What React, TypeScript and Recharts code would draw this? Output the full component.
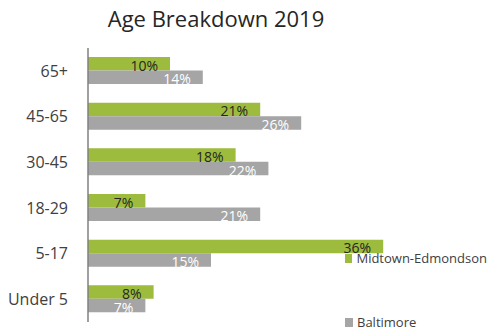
import { BarChart, Bar, XAxis, YAxis, Legend, LabelList } from 'recharts'

const AGE_GROUPS = ['65+', '45-65', '30-45', '18-29', '5-17', 'Under 5']
const MIDTOWN = [10, 21, 18, 7, 36, 8]
const BALTIMORE = [14, 26, 22, 21, 15, 7]
const SERIES_NAMES = ['Midtown-Edmondson', 'Baltimore']

const GREEN = '#9dbb3d'
const GRAY = '#a5a5a5'
const FONT = '"Open Sans", "Noto Sans", sans-serif'

const data = AGE_GROUPS.map((age, i) => ({
  age,
  midtown: MIDTOWN[i],
  baltimore: BALTIMORE[i],
}))

const pct = (v: unknown) => `${v}%`

function LegendBox({ payload }: { payload?: Array<{ value: string; color: string }> }) {
  // keep Excel's order: Midtown first, Baltimore below
  const items = [...(payload ?? [])].sort(
    (a, b) => SERIES_NAMES.indexOf(a.value) - SERIES_NAMES.indexOf(b.value)
  )
  return (
    <div style={{ fontFamily: FONT, fontSize: 13, color: '#404040', whiteSpace: 'nowrap' }}>
      {items.map((item, i) => (
        <div
          key={item.value}
          style={{ display: 'flex', alignItems: 'center', height: 16, marginTop: i === 0 ? 0 : 48 }}
        >
          <span style={{ width: 8, height: 9, background: item.color, marginRight: 4, display: 'inline-block' }} />
          <span>{item.value}</span>
        </div>
      ))}
    </div>
  )
}

export default function App() {
  return (
    <div style={{ position: 'absolute', left: 0, top: 0, width: 487, height: 332, background: '#fff' }}>
      <div
        style={{
          position: 'absolute',
          left: 0,
          top: 7,
          width: 432,
          textAlign: 'center',
          fontFamily: FONT,
          fontSize: 22,
          lineHeight: '22px',
          color: '#262626',
        }}
      >
        Age Breakdown 2019
      </div>
      <BarChart
        width={487}
        height={332}
        data={data}
        layout="vertical"
        margin={{ top: 48, right: 71, bottom: 10, left: 0 }}
        barGap={0}
        barSize={13.5}
      >
        <XAxis type="number" domain={[0, 40]} hide />
        <YAxis
          type="category"
          dataKey="age"
          width={88}
          axisLine={{ stroke: '#808080', strokeWidth: 1.5 }}
          tickLine={false}
          tickSize={0}
          tickMargin={20}
          tick={{ fontSize: 16, fill: '#404040', fontFamily: FONT }}
        />
        <Legend
          layout="horizontal"
          verticalAlign="middle"
          wrapperStyle={{ left: 345, top: 250, width: 142 }}
          content={(props: any) => <LegendBox payload={props.payload} />}
        />
        <Bar dataKey="midtown" name={SERIES_NAMES[0]} fill={GREEN} isAnimationActive={false}>
          <LabelList
            dataKey="midtown"
            position="insideRight"
            offset={12}
            formatter={pct}
            style={{ fontSize: 14, fill: '#262626', fontFamily: FONT }}
            dy={2}
          />
        </Bar>
        <Bar dataKey="baltimore" name={SERIES_NAMES[1]} fill={GRAY} isAnimationActive={false}>
          <LabelList
            dataKey="baltimore"
            position="insideRight"
            offset={12}
            formatter={pct}
            style={{ fontSize: 14, fill: '#ffffff', fontFamily: FONT }}
            dy={2}
          />
        </Bar>
      </BarChart>
    </div>
  )
}
